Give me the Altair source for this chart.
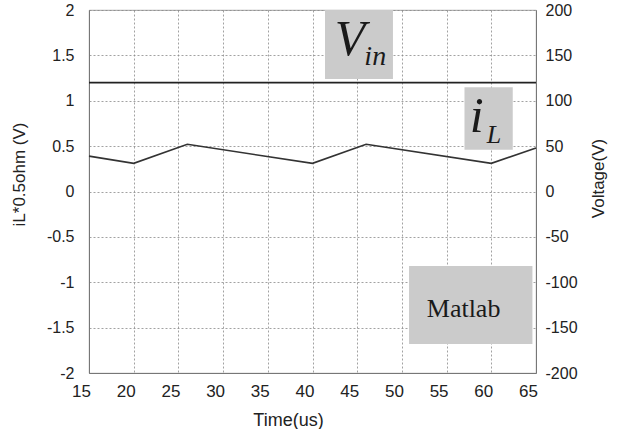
import altair as alt
import pandas as pd

# ---- data ----
time_il = [15, 20, 26, 40, 46, 60, 65]          # us
il_scaled = [0.39, 0.31, 0.52, 0.31, 0.52, 0.31, 0.48]  # iL*0.5ohm (V)
time_vin = [15, 65]
vin_volts = [120, 120]                          # Voltage (V)

left_ticks = [-2, -1.5, -1, -0.5, 0, 0.5, 1, 1.5, 2]
right_ticks = [-200, -150, -100, -50, 0, 50, 100, 150, 200]
x_ticks = [15, 20, 25, 30, 35, 40, 45, 50, 55, 60, 65]

# annotation boxes (time, left-axis units)
box_x = [41.4, 57.0, 50.8]
box_x2 = [49.0, 62.4, 64.6]
box_y = [1.24, 0.46, -1.68]
box_y2 = [2.0, 1.15, -0.82]

# annotation texts
txt = ["V", "in", "i", "L"]
txt_x = [42.5, 45.8, 57.6, 59.5]
txt_y = [1.50, 1.39, 0.656, 0.534]
txt_size = [50, 28, 50, 26]

il_df = pd.DataFrame({"t": time_il, "v": il_scaled})
vin_df = pd.DataFrame({"t": time_vin, "v": vin_volts})
box_df = pd.DataFrame({"x": box_x, "x2": box_x2, "y": box_y, "y2": box_y2})
txt_df = pd.DataFrame({"t": txt, "x": txt_x, "y": txt_y, "s": txt_size})
mat_df = pd.DataFrame({"t": ["Matlab"], "x": [56.9], "y": [-1.383]})

common = dict(labelFont="Liberation Sans", labelColor="#222222",
              titleFont="Liberation Sans", titleFontWeight="normal",
              titleColor="#222222", ticks=False, domainColor="#777777",
              gridColor="#8a8a8a", gridDash=[2, 2], gridWidth=0.8, gridOpacity=1)

xscale = alt.Scale(domain=[15, 65], nice=False, zero=False)
xaxis = alt.Axis(values=x_ticks, title="Time(us)", grid=True,
                 labelFontSize=17, titleFontSize=18, labelOffset=-8,
                 labelFlush=False,
                 labelPadding=10, titlePadding=12, titleX=199, **common)
lscale = alt.Scale(domain=[-2, 2], nice=False, zero=False)
rscale = alt.Scale(domain=[-200, 200], nice=False, zero=False)

left_axis = alt.Axis(values=left_ticks, title="iL*0.5ohm (V)", orient="left",
                     labelExpr="datum.value + ''", grid=True,
                     labelFontSize=16, titleFontSize=17,
                     titlePadding=18, labelPadding=15, titleY=164, **common)
right_axis = alt.Axis(values=right_ticks, title="Voltage(V)", orient="right",
                      labelExpr="datum.value + ''", grid=False,
                      labelFontSize=16, titleFontSize=17,
                      titleAngle=270, titlePadding=30, labelPadding=9,
                      titleY=168, **common)

il_line = alt.Chart(il_df).mark_line(color="#333333", strokeWidth=1.6).encode(
    x=alt.X("t:Q", scale=xscale, axis=xaxis),
    y=alt.Y("v:Q", scale=lscale, axis=left_axis),
)

boxes = alt.Chart(box_df).mark_rect(color="#cbcbcb").encode(
    x=alt.X("x:Q", scale=xscale), x2="x2:Q",
    y=alt.Y("y:Q", scale=lscale), y2="y2:Q",
)

texts = alt.Chart(txt_df).mark_text(
    font="Liberation Serif", fontStyle="italic", align="left",
    baseline="alphabetic", color="#1a1a1a"
).encode(
    x=alt.X("x:Q", scale=xscale), y=alt.Y("y:Q", scale=lscale),
    text="t:N", size=alt.Size("s:Q", scale=None, legend=None),
)

mat = alt.Chart(mat_df).mark_text(
    font="Liberation Serif", fontSize=26, align="center",
    baseline="alphabetic", color="#1a1a1a"
).encode(
    x=alt.X("x:Q", scale=xscale), y=alt.Y("y:Q", scale=lscale), text="t:N"
)

left = alt.layer(boxes, il_line, texts, mat)

vin_line = alt.Chart(vin_df).mark_line(color="#222222", strokeWidth=1.6).encode(
    x=alt.X("t:Q", scale=xscale),
    y=alt.Y("v:Q", scale=rscale, axis=right_axis),
)

chart = alt.layer(left, vin_line).resolve_scale(y="independent").properties(
    width=447, height=363,
    autosize=alt.AutoSizeParams(type="none"),
    padding={"left": 89, "top": 10, "right": 84, "bottom": 56},
    background="white",
).configure_view(
    stroke="#8a8a8a", strokeWidth=0.8
)

chart.save("out.html", embed_options={"renderer": "svg", "actions": False})
